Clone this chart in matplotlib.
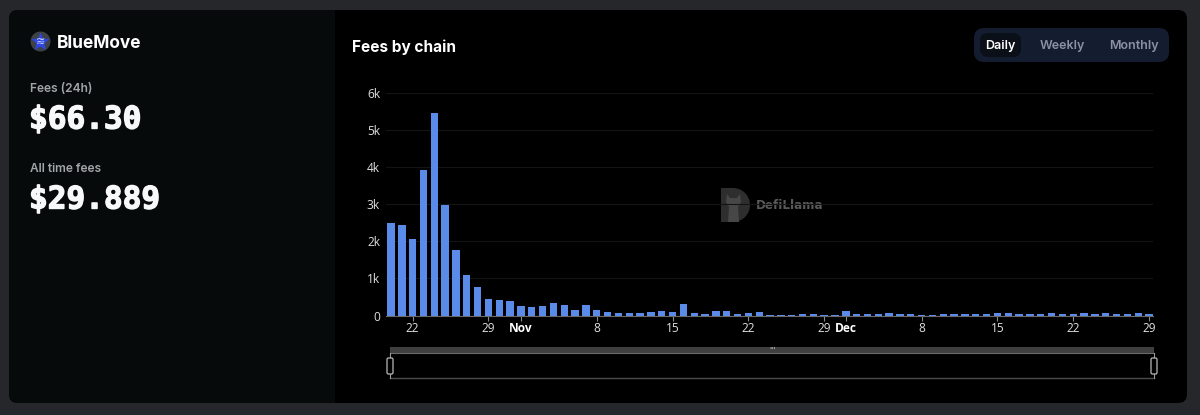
import matplotlib
matplotlib.use('Agg')
import matplotlib.patheffects as pe
import matplotlib.pyplot as plt
from matplotlib.patches import Circle, FancyBboxPatch, Polygon, Rectangle, Wedge

W, H = 1200, 415

# daily fees, starting Oct 20
fees = [2500, 2430, 2070, 3930, 5450, 2990, 1770, 1100, 760, 450,
        430, 380, 260, 240, 260, 330, 290, 145, 270, 145,
        90, 60, 65, 70, 100, 115, 90, 300, 60, 50,
        120, 110, 50, 70, 90, 20, 20, 20, 50, 50,
        20, 20, 110, 30, 50, 40, 60, 30, 40, 20,
        20, 40, 50, 40, 40, 50, 70, 80, 40, 40,
        30, 70, 30, 40, 70, 40, 60, 50, 30, 60, 50]

tick_pos = [2, 9, 12, 19, 26, 33, 40, 42, 49, 56, 63, 70]
tick_labels = ['22', '29', 'Nov', '8', '15', '22', '29', 'Dec', '8', '15', '22', '29']
y_ticks = [0, 1000, 2000, 3000, 4000, 5000, 6000]
y_labels = ['0', '1k', '2k', '3k', '4k', '5k', '6k']

UI = 'Inter'
LABEL = 'Open Sans'
MONO = 'DejaVu Sans Mono'


def rounded(ax, x0, y0, x1, y1, r, color, **kw):
    p = FancyBboxPatch((x0 + r, y0 + r), x1 - x0 - 2 * r, y1 - y0 - 2 * r,
                       boxstyle=f'round,pad={r},rounding_size={r}',
                       fc=color, ec='none', **kw)
    ax.add_patch(p)
    return p


fig = plt.figure(figsize=(W / 100, H / 100), dpi=100, facecolor='#25272b')

# page layer in pixel coordinates
bg = fig.add_axes([0, 0, 1, 1])
bg.set_xlim(0, W)
bg.set_ylim(H, 0)
bg.axis('off')

card = rounded(bg, 9, 10, 1187, 403, 9, '#000000')
left = Rectangle((9, 10), 326, 393, fc='#060a0b', ec='none')
bg.add_patch(left)
left.set_clip_path(card)

# logo
bg.add_patch(Circle((40.5, 41.5), 10, fc='#3e4145', ec='none'))
star = [(40.5, 32.5), (43, 38.5), (49.5, 39), (44.5, 43.5), (46, 50),
        (40.5, 46.5), (35, 50), (36.5, 43.5), (31.5, 39), (38, 38.5)]
bg.add_patch(Polygon(star, fc='#2f45e0', ec='none'))
bg.text(40.5, 41.5, '≋', color='#c8d0ff', fontsize=8, ha='center', va='center',
        family='DejaVu Sans')

bg.text(57, 43, 'BlueMove', color='white', fontsize=12.5, fontweight='bold',
        family=UI, va='center')
bg.text(30, 89, 'Fees (24h)', color='#a2a4a7', fontsize=8.6, fontweight='semibold',
        family=UI, va='center')
big = [pe.withStroke(linewidth=1.0, foreground='#f7f8fa')]
bg.text(29, 120, '$66.30', color='#f7f8fa', fontsize=22.4, fontweight='bold',
        family=MONO, va='center', path_effects=big)
bg.text(30, 169, 'All time fees', color='#a2a4a7', fontsize=8.6, fontweight='semibold',
        family=UI, va='center')
bg.text(29, 200, '$29.889', color='#f7f8fa', fontsize=22.4, fontweight='bold',
        family=MONO, va='center', path_effects=big)

bg.text(352, 47, 'Fees by chain', color='white', fontsize=11.1, fontweight='bold',
        family=UI, va='center')

# period switch
rounded(bg, 974, 28, 1169, 62, 10, '#141c2f')
rounded(bg, 980, 33, 1021, 57, 8, '#0a0f18')
bg.text(1000, 46.5, 'Daily', color='white', fontsize=9, fontweight='semibold',
        family=UI, ha='center', va='center')
bg.text(1062, 46.5, 'Weekly', color='#8b90a3', fontsize=9, fontweight='semibold',
        family=UI, ha='center', va='center')
bg.text(1134, 46.5, 'Monthly', color='#8b90a3', fontsize=9, fontweight='semibold',
        family=UI, ha='center', va='center')

# watermark
bg.add_patch(Wedge((733, 205), 17, -90, 90, fc='#2e2e2e', ec='none'))
bg.add_patch(Rectangle((720.5, 188), 12.5, 34, fc='#2e2e2e', ec='none'))
llama = [(727, 194), (730, 198), (737, 198), (740, 194), (741, 202), (738, 207),
         (739, 222), (728, 222), (729, 207), (726, 202)]
bg.add_patch(Polygon(llama, fc='#474747', ec='none'))
bg.text(756, 205.5, 'DefiLlama', color='#5a5a5a', fontsize=8.6, fontweight='bold',
        family='DejaVu Sans', va='center')

# range slider
bg.add_patch(Rectangle((390, 347), 764, 6, fc='#3f3f3f', ec='none'))
bg.plot([390, 1154], [353, 353], color='#6a6a6a', lw=0.8)
bg.plot([390, 1154], [378, 378], color='#4a4a4a', lw=1)
bg.text(772, 351, "'''", color='#d8d8d8', fontsize=5.5, ha='center', va='center')
for hx in (390, 1154):
    bg.plot([hx, hx], [353, 378], color='#9a9a9a', lw=0.8)
    h = FancyBboxPatch((hx - 2, 359), 4, 14, boxstyle='round,pad=1,rounding_size=1.5',
                       fc='#000000', ec='#b8b8b8', lw=0.9, zorder=5)
    bg.add_patch(h)

# chart
ax = fig.add_axes([385.6 / W, 1 - 315.5 / H, 767 / W, 222.5 / H], facecolor='none')
ax.bar(range(len(fees)), fees, width=0.68, color='#5a8be8', zorder=3)
ax.set_xlim(-0.5, 70.33)
ax.set_ylim(0, 6000)
ax.set_yticks(y_ticks, y_labels)
ax.set_xticks(tick_pos, tick_labels)
ax.grid(axis='y', color='#141414', lw=0.8, zorder=0)
ax.tick_params(axis='y', length=0, pad=4, labelcolor='#e0e0e0', labelsize=8.6)
ax.tick_params(axis='x', length=3.5, width=0.8, color='#8a8a8a', pad=1.5,
               labelcolor='#e0e0e0', labelsize=8.6)
fig.canvas.draw()
for lab in ax.get_xticklabels() + ax.get_yticklabels():
    lab.set_family(LABEL)
for i in (tick_labels.index('Nov'), tick_labels.index('Dec')):
    lab = ax.get_xticklabels()[i]
    lab.set_fontweight('bold')
    lab.set_color('white')
for side in ('top', 'left', 'right'):
    ax.spines[side].set_visible(False)
ax.spines['bottom'].set_color('#6a6a6a')
ax.spines['bottom'].set_linewidth(0.8)

fig.savefig('out.png', dpi=100, facecolor=fig.get_facecolor())
